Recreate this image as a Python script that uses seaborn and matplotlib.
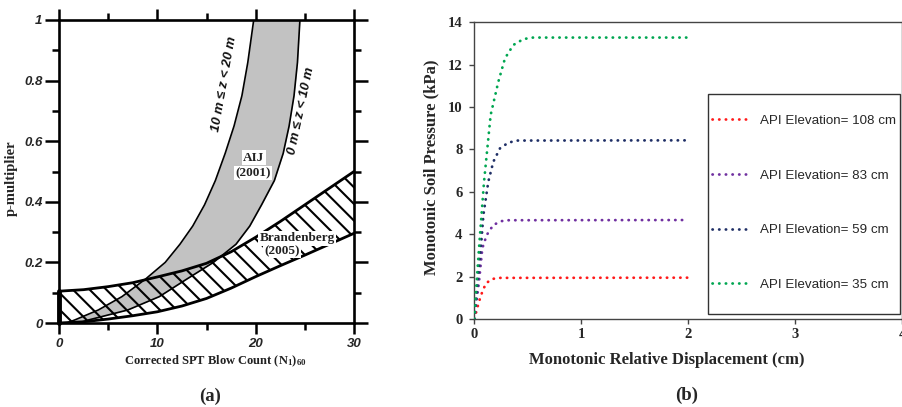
import matplotlib
matplotlib.use("Agg")
import matplotlib.pyplot as plt
import seaborn as sns
import pandas as pd
from matplotlib.ticker import FixedLocator
from matplotlib.lines import Line2D
from matplotlib.patches import Rectangle

# ---------------- Panel (a) data ----------------
aij_y = [0.0, 0.01, 0.043, 0.087, 0.145, 0.20, 0.26, 0.32, 0.39, 0.47, 0.56, 0.65, 0.75, 0.86, 1.0]
aij_deep_x = [0.8, 1.6, 4.0, 6.4, 8.8, 10.8, 12.3, 13.6, 14.8, 15.9, 16.9, 17.8, 18.6, 19.2, 19.8]      # 10 m <= z < 20 m
aij_shallow_x = [2.0, 3.0, 7.0, 10.2, 13.0, 15.7, 18.0, 19.4, 20.6, 21.9, 22.8, 23.4, 23.9, 24.25, 24.5]  # 0 m <= z < 10 m

brand_x = [0, 2.5, 5, 7.5, 10, 12.5, 15, 17.5, 20, 22.5, 25, 27.5, 30]
brand_upper = [0.105, 0.110, 0.120, 0.133, 0.152, 0.172, 0.197, 0.235, 0.283, 0.335, 0.390, 0.445, 0.500]
brand_lower = [0.0, 0.004, 0.013, 0.024, 0.037, 0.056, 0.081, 0.115, 0.153, 0.189, 0.224, 0.260, 0.296]

a_xticks = [0, 10, 20, 30]
a_xminor = [5, 15, 25]
a_yticks = [0, 0.2, 0.4, 0.6, 0.8, 1.0]
a_yticklabels = ["0", "0.2", "0.4", "0.6", "0.8", "1"]
a_yminor = [0.1, 0.3, 0.5, 0.7, 0.9]

# ---------------- Panel (b) data ----------------
labels_b = ["API Elevation= 108 cm", "API Elevation= 83 cm",
            "API Elevation= 59 cm", "API Elevation= 35 cm"]
colors_b = ["#ff1a1a", "#7030a0", "#1f2f66", "#00a651"]

red_x = [0, 0.019, 0.044, 0.075, 0.109, 0.163, 0.22, 2.0]
red_y = [0, 0.35, 0.82, 1.29, 1.68, 1.88, 1.94, 1.95]
purple_x = [0, 0.044, 0.075, 0.116, 0.178, 0.256, 0.32, 2.0]
purple_y = [0, 1.76, 3.34, 3.96, 4.44, 4.62, 4.66, 4.67]
navy_x = [0, 0.065, 0.085, 0.131, 0.178, 0.24, 0.318, 0.40, 2.0]
navy_y = [0, 3.6, 4.91, 6.48, 7.42, 8.05, 8.32, 8.42, 8.43]
green_x = [0, 0.02, 0.044, 0.091, 0.153, 0.225, 0.287, 0.365, 0.46, 0.55, 2.0]
green_y = [0, 1.6, 3.34, 6.48, 9.63, 11.2, 12.3, 12.93, 13.21, 13.28, 13.28]

b_xticks = [0, 1, 2, 3, 4]
b_yticks = [0, 2, 4, 6, 8, 10, 12, 14]

# ---------------- style ----------------
sns.set_style("ticks")
plt.rcParams["font.family"] = ["Liberation Serif", "DejaVu Serif"]
plt.rcParams["hatch.linewidth"] = 1.5
plt.rcParams["lines.dash_capstyle"] = "round"
plt.rcParams["mathtext.fontset"] = "custom"
plt.rcParams["mathtext.rm"] = "Liberation Serif:bold"
plt.rcParams["mathtext.it"] = "Liberation Serif:bold"
plt.rcParams["mathtext.bf"] = "Liberation Serif:bold"
plt.rcParams["mathtext.default"] = "rm"

W, H = 902, 407
fig = plt.figure(figsize=(W / 100, H / 100), dpi=100)
fig.patch.set_facecolor("white")

# ================= Panel (a) =================
axa = fig.add_axes([59 / W, 1 - 323 / H, 295 / W, 303 / H])
axa.set_facecolor("white")

axa.fill_betweenx(aij_y, aij_deep_x, aij_shallow_x, color="#c2c2c2", lw=0, zorder=1)
poly_x = brand_x + brand_x[::-1]
poly_y = brand_lower + brand_upper[::-1]
axa.fill(poly_x, poly_y, facecolor="none", edgecolor="black", hatch="\\\\", lw=0, zorder=2)

sns.lineplot(x=aij_deep_x, y=aij_y, sort=False, estimator=None, color="black", lw=1.2, ax=axa, zorder=3)
sns.lineplot(x=aij_shallow_x, y=aij_y, sort=False, estimator=None, color="black", lw=1.2, ax=axa, zorder=3)
sns.lineplot(x=brand_x, y=brand_upper, sort=False, estimator=None, color="black", lw=2.0, ax=axa, zorder=4)
sns.lineplot(x=brand_x, y=brand_lower, sort=False, estimator=None, color="black", lw=2.0, ax=axa, zorder=4)
axa.plot([brand_x[0], brand_x[0]], [brand_lower[0], brand_upper[0]], color="black", lw=3.5, zorder=4, clip_on=False)

axa.set_xlim(0, 30)
axa.set_ylim(0, 1)
axa.xaxis.set_major_locator(FixedLocator(a_xticks))
axa.xaxis.set_minor_locator(FixedLocator(a_xminor))
axa.yaxis.set_major_locator(FixedLocator(a_yticks))
axa.yaxis.set_minor_locator(FixedLocator(a_yminor))
axa.set_xticklabels([str(t) for t in a_xticks])
axa.set_yticklabels(a_yticklabels)
for s in axa.spines.values():
    s.set_linewidth(1.9)
    s.set_color("black")
    s.set_visible(True)
axa.tick_params(which="both", direction="out", top=True, right=True, width=1.8, color="black")
axa.tick_params(axis="x", which="major", length=8, pad=3)
axa.tick_params(axis="y", which="major", length=10, pad=2)
axa.tick_params(which="minor", length=5)
for lab in axa.get_xticklabels() + axa.get_yticklabels():
    lab.set_fontfamily("Liberation Sans")
    lab.set_fontweight("bold")
    lab.set_fontstyle("italic")
    lab.set_fontsize(9.5)
axa.set_xlabel("")
axa.set_ylabel("")

tk = dict(family="Liberation Sans", weight="bold", style="italic", fontsize=9.5, color="#111111",
          ha="center", va="center", rotation_mode="anchor")
axa.text(16.8, 0.79, "10 m ≤ z < 20 m", rotation=80, **tk)
axa.text(24.6, 0.70, "0 m ≤ z < 10 m", rotation=78, **tk)
box = dict(facecolor="white", edgecolor="none", pad=1.0)
axa.text(19.8, 0.545, "AIJ", fontsize=9.5, weight="bold", ha="center", va="center", color="#222222", bbox=box, zorder=6)
axa.text(19.7, 0.495, "(2001)", fontsize=9.5, weight="bold", ha="center", va="center", color="#222222", bbox=box, zorder=6)
axa.text(24.2, 0.280, "Brandenberg", fontsize=9.5, weight="bold", ha="center", va="center", color="#222222", bbox=box, zorder=6)
axa.text(22.7, 0.238, "(2005)", fontsize=9.5, weight="bold", ha="center", va="center", color="#222222", bbox=box, zorder=6)

fig.text(11 / W, 1 - 178 / H, "p-multiplier", rotation=90, ha="center", va="center",
         fontsize=10.5, weight="bold")
fig.text(215 / W, 1 - 361 / H, "Corrected SPT Blow Count (N$_{1}$)$_{60}$", ha="center", va="center",
         fontsize=9, weight="bold", color="#222222")
fig.text(210 / W, 1 - 396 / H, "(a)", ha="center", va="center", fontsize=13.5, weight="bold")

# ================= Panel (b) =================
axb = fig.add_axes([474.3 / W, 1 - 319 / H, (W - 474.3) / W, (319 - 22.3) / H])
axb.set_facecolor("white")
series = [(red_x, red_y), (purple_x, purple_y), (navy_x, navy_y), (green_x, green_y)]
dot_style = (0, (0.1, 2.3))
for (xs, ys), c in zip(series, colors_b):
    sns.lineplot(x=xs, y=ys, sort=False, estimator=None, color=c, lw=2.0,
                 linestyle=dot_style, ax=axb, zorder=3)
axb.set_xlim(0, 4)
axb.set_ylim(0, 14)
axb.xaxis.set_major_locator(FixedLocator(b_xticks))
axb.yaxis.set_major_locator(FixedLocator(b_yticks))
axb.set_xticklabels([str(t) for t in b_xticks])
axb.set_yticklabels([str(t) for t in b_yticks])
for s in axb.spines.values():
    s.set_linewidth(1.0)
    s.set_color("#444444")
    s.set_visible(True)
axb.tick_params(direction="out", length=3.5, width=1.0, color="#444444")
axb.tick_params(axis="y", pad=5)
axb.tick_params(axis="x", pad=3)
for lab in axb.get_xticklabels() + axb.get_yticklabels():
    lab.set_fontfamily("Liberation Serif")
    lab.set_fontweight("bold")
    lab.set_fontsize(10.5)
axb.set_xlabel("")
axb.set_ylabel("")

fig.text(431.5 / W, 1 - 167.5 / H, "Monotonic Soil Pressure (kPa)", rotation=90, ha="center", va="center",
         fontsize=12, weight="bold")
fig.text(666.7 / W, 1 - 360 / H, "Monotonic Relative Displacement (cm)", ha="center", va="center",
         fontsize=12, weight="bold")
fig.text(687 / W, 1 - 395 / H, "(b)", ha="center", va="center", fontsize=13.5, weight="bold")

# legend frame and entries
frame = Rectangle((707.7 / W, 1 - 314 / H), (900 - 707.7) / W, (314 - 94) / H,
                  transform=fig.transFigure, facecolor="white", edgecolor="#333333", lw=1.0, zorder=4)
fig.patches.append(frame)
handles = [Line2D([0], [0], color=c, lw=2.0, linestyle=dot_style, dash_capstyle="round") for c in colors_b]
leg = fig.legend(handles, labels_b, loc="upper left", bbox_to_anchor=(711.7 / W, 1 - 114.5 / H),
                 bbox_transform=fig.transFigure, frameon=False, borderpad=0, borderaxespad=0,
                 handlelength=3.0, handletextpad=0.61, labelspacing=3.18,
                 prop=dict(family="Liberation Sans", size=9.6))
leg.set_zorder(5)

fig.savefig("out.png", dpi=100, facecolor="white")
